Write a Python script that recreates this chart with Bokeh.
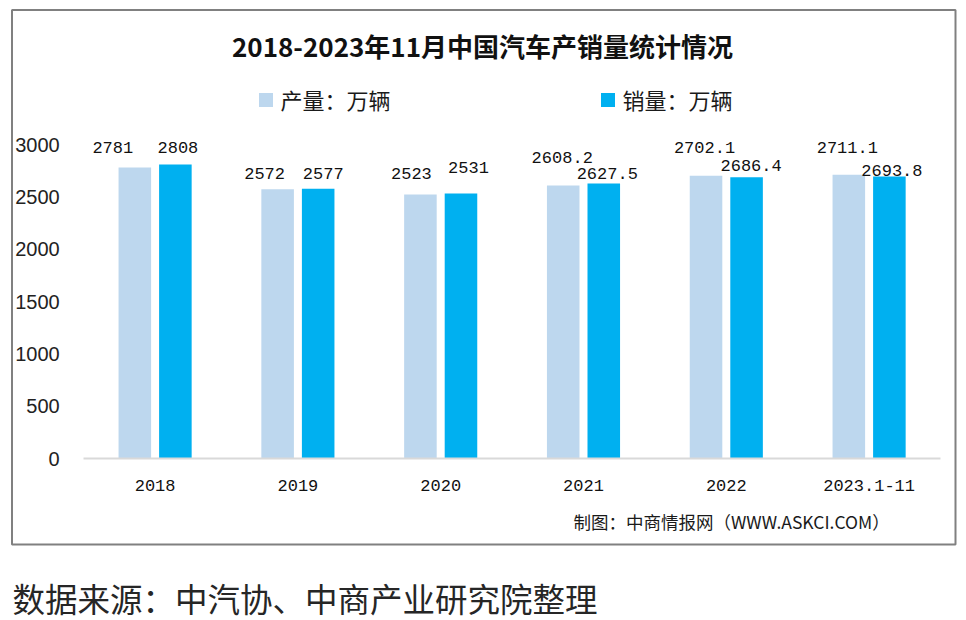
from bokeh.plotting import figure
from bokeh.models import Range1d, LinearAxis, FixedTicker, ColumnDataSource, Label
from bokeh.embed import file_html
from bokeh.resources import INLINE
from bokeh.core.properties import value
from bokeh.transform import dodge

# ---------------- data ----------------
categories = ["2018", "2019", "2020", "2021", "2022", "2023.1-11"]
production = [2781, 2572, 2523, 2608.2, 2702.1, 2711.1]
sales = [2808, 2577, 2531, 2627.5, 2686.4, 2693.8]
production_labels = ["2781", "2572", "2523", "2608.2", "2702.1", "2711.1"]
sales_labels = ["2808", "2577", "2531", "2627.5", "2686.4", "2693.8"]
y_ticks = [0, 500, 1000, 1500, 2000, 2500, 3000]
series_names = ["产量：万辆", "销量：万辆"]
title_text = "2018-2023年11月中国汽车产销量统计情况"
credit_text = "制图：中商情报网（WWW.ASKCI.COM）"
source_text = "数据来源：中汽协、中商产业研究院整理"

# ---------------- layout (pixels) ----------------
W, H = 966, 620
CAT_PX = 142.8        # width of one category
CAT0_PX = 154.6       # x of the first category centre
ZERO_PX = 458         # y (from top) of value 0
PX_PER_UNIT = 314 / 3000
OFF = 0.142           # dodge offset of bars (category units)
BW = 0.228            # bar width (category units)

# label nudges in pixels (style only)
prod_dx = [-22, -13, -9, -1, -1.5, -1.5]
prod_dy = [-20, -16, -21, -28, -28, -27]
sales_dx = [2.5, 5, 7.5, 3.5, 4.5, 2.5]
sales_dy = [-17, -15, -26, -10, -12, -6]

x_range = Range1d(-CAT0_PX / CAT_PX, (W - CAT0_PX) / CAT_PX)
y_range = Range1d(-(H - ZERO_PX) / PX_PER_UNIT, ZERO_PX / PX_PER_UNIT)


def px_x(px):
    return x_range.start + px / W * (x_range.end - x_range.start)


def px_y(py):
    return y_range.end - py / H * (y_range.end - y_range.start)


p = figure(width=W, height=H, x_range=x_range, y_range=y_range,
           output_backend="svg", toolbar_location=None, title=None,
           x_axis_type=None, y_axis_type=None, min_border=0,
           outline_line_color=None, background_fill_color="white",
           border_fill_color="white")

# outer frame box
p.quad(left=[px_x(11.5)], right=[px_x(955)], top=[px_y(9.5)], bottom=[px_y(544)],
       fill_color=None, line_color="#808080", line_width=2)

src = ColumnDataSource(dict(
    x=list(range(len(categories))), cat=categories,
    prod=production, sales=sales,
    prod_label=production_labels, sales_label=sales_labels,
    prod_dx=prod_dx, prod_dy=prod_dy, sales_dx=sales_dx, sales_dy=sales_dy,
))

p.vbar(x=dodge("x", -OFF, range=p.x_range), top="prod", bottom=0, width=BW,
       source=src, fill_color="#bdd7ee", line_color=None)
p.vbar(x=dodge("x", OFF, range=p.x_range), top="sales", bottom=0, width=BW,
       source=src, fill_color="#00b0f0", line_color=None)

label_font = value("Liberation Mono")
p.text(x=dodge("x", -OFF, range=p.x_range), y="prod", text="prod_label",
       x_offset="prod_dx", y_offset="prod_dy", source=src,
       text_align="center", text_baseline="middle", text_font=label_font,
       text_font_size="17px", text_color="#111111")
p.text(x=dodge("x", OFF, range=p.x_range), y="sales", text="sales_label",
       x_offset="sales_dx", y_offset="sales_dy", source=src,
       text_align="center", text_baseline="middle", text_font=label_font,
       text_font_size="17px", text_color="#111111")

# axes
yaxis = LinearAxis(ticker=FixedTicker(ticks=y_ticks), fixed_location=-0.5)
yaxis.axis_line_color = None
yaxis.major_tick_line_color = None
yaxis.minor_tick_line_color = None
yaxis.major_label_standoff = 18
yaxis.major_label_text_font = "Liberation Sans"
yaxis.major_label_text_font_size = "20px"
yaxis.major_label_text_color = "#222222"
p.add_layout(yaxis, "left")

xaxis = LinearAxis(ticker=FixedTicker(ticks=list(range(len(categories)))),
                   fixed_location=0, bounds=(-0.5, len(categories) - 0.5),
                   major_label_overrides={i: c for i, c in enumerate(categories)})
xaxis.axis_line_color = "#d9d9d9"
xaxis.axis_line_width = 2
xaxis.major_tick_line_color = None
xaxis.minor_tick_line_color = None
xaxis.major_label_standoff = 15
xaxis.major_label_text_font = "Liberation Mono"
xaxis.major_label_text_font_size = "17px"
xaxis.major_label_text_color = "#111111"
p.add_layout(xaxis, "below")

# title
p.add_layout(Label(x=px_x(482), y=px_y(45), text=title_text,
                   text_align="center", text_baseline="middle",
                   text_font="Noto Sans CJK SC", text_font_size="26px",
                   text_font_style="bold", text_color="#111111"))

# legend (manual)
legend_sq_x = [265.5, 607.5]
legend_txt_x = [280, 622]
colors = ["#bdd7ee", "#00b0f0"]
for name, sx, tx, c in zip(series_names, legend_sq_x, legend_txt_x, colors):
    p.quad(left=[px_x(sx - 7)], right=[px_x(sx + 7)], top=[px_y(92.5)], bottom=[px_y(106.5)],
           fill_color=c, line_color=None)
    p.add_layout(Label(x=px_x(tx), y=px_y(98), text=name, text_align="left",
                       text_baseline="middle", text_font="Noto Sans CJK SC",
                       text_font_size="22px", text_color="#1a1a1a"))

# credit
p.add_layout(Label(x=px_x(573), y=px_y(521), text=credit_text, text_align="left",
                   text_baseline="middle", text_font="Noto Sans CJK SC",
                   text_font_size="17.5px", text_color="#1a1a1a"))

# source caption
p.add_layout(Label(x=px_x(12), y=px_y(597), text=source_text, text_align="left",
                   text_baseline="middle", text_font="Noto Sans CJK SC",
                   text_font_size="32.5px", text_color="#262626"))

open("out.html", "w").write(file_html(p, INLINE))
